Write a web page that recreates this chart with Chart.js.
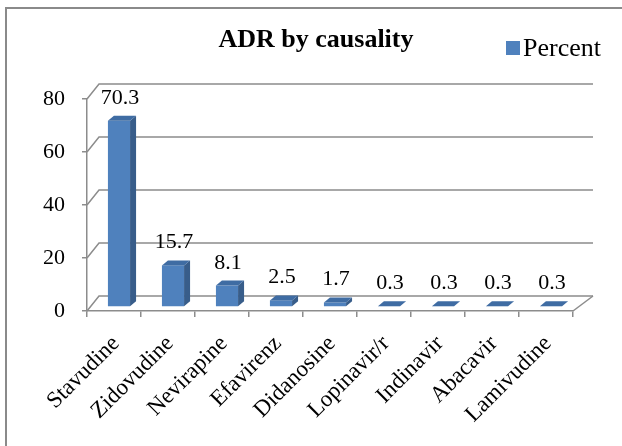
<!DOCTYPE html>
<html>
<head>
<meta charset="utf-8">
<script src="https://cdn.jsdelivr.net/npm/chart.js@4/dist/chart.umd.min.js"></script>
<style>
  html, body { margin: 0; padding: 0; background: #fff; }
</style>
</head>
<body>
<canvas id="chart" width="622" height="446"></canvas>
<script>
const drugs = ["Stavudine", "Zidovudine", "Nevirapine", "Efavirenz", "Didanosine",
               "Lopinavir/r", "Indinavir", "Abacavir", "Lamivudine"];
const percent = [70.3, 15.7, 8.1, 2.5, 1.7, 0.3, 0.3, 0.3, 0.3];
const yTicks = [0, 20, 40, 60, 80];
const chartTitle = "ADR by causality";
const seriesName = "Percent";

const SERIF = "'Liberation Serif', 'Times New Roman', serif";
const GRID = "#8c8c8c";
const FRONT = "#4f81bd";
const SIDE = "#385d8a";
const TOP = "#3f6ca3";

// fake 3d: back wall offset, bar depth
const wall = { left: 12, right: 20, up: 15 };
const barShift = { x: 5, y: -4 };
const barDepth = { x: 6, y: 5 };

function poly(ctx, pts) {
  ctx.beginPath();
  ctx.moveTo(pts[0][0], pts[0][1]);
  for (let i = 1; i < pts.length; i++) ctx.lineTo(pts[i][0], pts[i][1]);
}

const threeD = {
  id: "threeD",
  beforeDraw(chart) {
    const ctx = chart.ctx;
    ctx.save();
    ctx.strokeStyle = "#8a8a8a";
    ctx.lineWidth = 2;
    poly(ctx, [[6, 460], [6, 8], [640, 8]]);
    ctx.stroke();
    ctx.restore();
  },
  beforeDatasetsDraw(chart) {
    const { ctx, chartArea: a, scales: { x, y } } = chart;
    ctx.save();
    ctx.strokeStyle = GRID;
    ctx.lineWidth = 1.5;
    const y0 = y.getPixelForValue(0);
    poly(ctx, [[a.right, y0], [a.right + wall.right, y0 - wall.up]]);
    ctx.stroke();
    yTicks.forEach(v => {
      const py = y.getPixelForValue(v);
      poly(ctx, [[a.left, py], [a.left + wall.left, py - wall.up], [a.right + wall.right, py - wall.up]]);
      ctx.stroke();
    });

    // category labels at 45 degrees
    ctx.fillStyle = "#000";
    ctx.font = "23px " + SERIF;
    ctx.textAlign = "right";
    ctx.textBaseline = "middle";
    drugs.forEach((name, i) => {
      ctx.save();
      ctx.translate(x.getPixelForTick(i) + 2, y0 + 29);
      ctx.rotate(-Math.PI / 4);
      ctx.fillText(name, 0, 0);
      ctx.restore();
    });
    ctx.restore();

    ctx.save();
    ctx.translate(barShift.x, barShift.y);
  },
  afterDatasetsDraw(chart) {
    const ctx = chart.ctx;
    const meta = chart.getDatasetMeta(0);
    meta.data.forEach(bar => {
      const { x, y, base, width } = bar.getProps(["x", "y", "base", "width"], true);
      const l = x - width / 2, r = x + width / 2;
      ctx.fillStyle = SIDE;
      poly(ctx, [[r, y], [r + barDepth.x, y - barDepth.y], [r + barDepth.x, base - barDepth.y], [r, base]]);
      ctx.closePath();
      ctx.fill();
      ctx.fillStyle = TOP;
      poly(ctx, [[l, y], [l + barDepth.x, y - barDepth.y], [r + barDepth.x, y - barDepth.y], [r, y]]);
      ctx.closePath();
      ctx.fill();
    });
    ctx.restore();

    ctx.save();
    ctx.font = "22px " + SERIF;
    ctx.fillStyle = "#000";
    ctx.textAlign = "center";
    ctx.textBaseline = "alphabetic";
    meta.data.forEach((bar, i) => {
      ctx.fillText(percent[i].toFixed(1), bar.x + barShift.x + 1, bar.y + barShift.y - 17);
    });
    ctx.restore();
  },
  afterDraw(chart) {
    const ctx = chart.ctx;
    ctx.save();
    ctx.fillStyle = "#000";
    ctx.font = "bold 26px " + SERIF;
    ctx.textAlign = "center";
    ctx.textBaseline = "alphabetic";
    ctx.fillText(chartTitle, 316, 47);
    ctx.fillStyle = FRONT;
    ctx.fillRect(506, 41, 14, 14);
    ctx.fillStyle = "#000";
    ctx.font = "26px " + SERIF;
    ctx.textAlign = "left";
    ctx.fillText(seriesName, 523, 56);
    ctx.restore();
  }
};

new Chart(document.getElementById("chart"), {
  type: "bar",
  data: {
    labels: drugs,
    datasets: [{
      label: seriesName,
      data: percent,
      backgroundColor: FRONT,
      borderWidth: 0,
      categoryPercentage: 1,
      barPercentage: 0.41,
      clip: false
    }]
  },
  options: {
    responsive: false,
    animation: false,
    devicePixelRatio: 1,
    layout: { padding: { top: 99, right: 49, left: 0, bottom: 0 } },
    plugins: {
      legend: { display: false },
      title: { display: false },
      tooltip: { enabled: false }
    },
    scales: {
      x: {
        afterFit: s => { s.height = 135; },
        grid: { drawOnChartArea: false, offset: true, tickLength: 6, color: GRID, lineWidth: 1.5 },
        border: { color: GRID, width: 1.5 },
        ticks: { display: false, autoSkip: false }
      },
      y: {
        min: 0,
        max: 80,
        afterFit: s => { s.width = 87; },
        afterBuildTicks: s => { s.ticks = yTicks.map(v => ({ value: v })); },
        grid: { drawOnChartArea: false, tickLength: 5, color: GRID, lineWidth: 1.5 },
        border: { color: GRID, width: 1.5 },
        ticks: {
          color: "#000",
          font: { family: SERIF, size: 22 },
          padding: 17
        }
      }
    }
  },
  plugins: [threeD]
});
</script>
</body>
</html>
